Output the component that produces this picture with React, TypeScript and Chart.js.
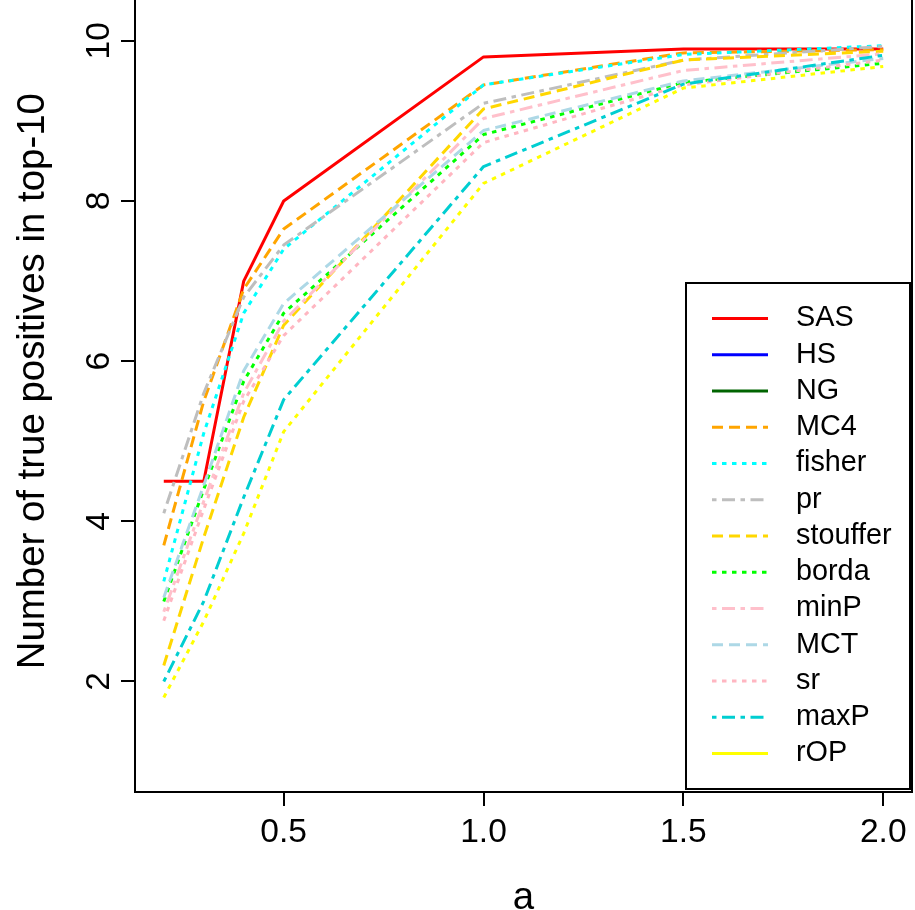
import React, { useEffect, useRef } from "react";
import { Chart, registerables } from "chart.js";
Chart.register(...registerables);

// ---- data ----
const aValues = [0.2, 0.3, 0.4, 0.5, 1.0, 1.5, 2.0];
const xTickValues = [0.5, 1.0, 1.5, 2.0];
const yTickValues = [2, 4, 6, 8, 10];
const seriesNames = ["SAS", "HS", "NG", "MC4", "fisher", "pr", "stouffer", "borda", "minP", "MCT", "sr", "maxP", "rOP"];

const SAS = [4.5, 4.5, 7.0, 8.0, 9.8, 9.9, 9.9];
const HS: number[] = [];
const NG: number[] = [];
const MC4 = [3.7, 5.5, 6.9, 7.65, 9.45, 9.85, 9.89];
const fisher = [3.25, 5.1, 6.6, 7.4, 9.45, 9.83, 9.94];
const pr = [4.1, 5.6, 6.8, 7.45, 9.22, 9.76, 9.93];
const stouffer = [2.2, 3.8, 5.3, 6.45, 9.15, 9.76, 9.87];
const borda = [3.0, 4.4, 5.75, 6.6, 8.83, 9.48, 9.72];
const minP = [2.87, 4.25, 5.6, 6.5, 9.03, 9.63, 9.84];
const MCT = [3.05, 4.45, 5.88, 6.72, 8.88, 9.5, 9.78];
const sr = [2.76, 4.15, 5.5, 6.32, 8.73, 9.45, 9.76];
const maxP = [2.0, 3.0, 4.3, 5.52, 8.43, 9.46, 9.82];
const rOP = [1.8, 2.75, 3.85, 5.12, 8.22, 9.41, 9.68];

const seriesValues = [SAS, HS, NG, MC4, fisher, pr, stouffer, borda, minP, MCT, sr, maxP, rOP];

// ---- styles ----
const colors = ["#FF0000", "#0000FF", "#006400", "#FFA500", "#00FFFF", "#BEBEBE", "#FFD700", "#00FF00", "#FFC0CB", "#ADD8E6", "#FFB6C1", "#00CED1", "#FFFF00"];
const DASH: Record<string, number[]> = {
  solid: [],
  dashed: [11, 6],
  dotted: [4.5, 5.5],
  dotdash: [4.5, 5.5, 13, 5.5],
};
const plotLty = ["solid", "solid", "solid", "dashed", "dotted", "dotdash", "dashed", "dotted", "dotdash", "dashed", "dotted", "dotdash", "dotted"];
const legendLty = ["solid", "solid", "solid", "dashed", "dotted", "dotdash", "dashed", "dotted", "dotdash", "dashed", "dotted", "dotdash", "solid"];

const FONT = "'Liberation Sans', Arial, Helvetica, sans-serif";
const CANVAS_OFFSET = 40; // plot region top lies above the visible page

const rPlotPlugin = {
  id: "rplot",
  afterDraw(chart: any) {
    const { ctx, chartArea: ca } = chart;
    ctx.save();
    // plot box
    ctx.strokeStyle = "#000";
    ctx.lineWidth = 2;
    ctx.setLineDash([]);
    ctx.strokeRect(ca.left, ca.top, ca.right - ca.left, ca.bottom - ca.top);

    // y tick labels (rotated, R style)
    const ys = chart.scales.y;
    ctx.fillStyle = "#000";
    ctx.font = `33.6px ${FONT}`;
    ctx.textAlign = "center";
    ctx.textBaseline = "middle";
    ys.ticks.forEach((t: any) => {
      const py = ys.getPixelForValue(t.value);
      ctx.save();
      ctx.translate(ca.left - 35, py);
      ctx.rotate(-Math.PI / 2);
      ctx.fillText(String(t.value), 0, 0);
      ctx.restore();
    });

    // legend box
    const bRight = ca.right - 2;
    const bBottom = ca.bottom - 3;
    const bW = 224;
    const bH = 506;
    const bLeft = bRight - bW;
    const bTop = bBottom - bH;
    ctx.fillStyle = "#fff";
    ctx.fillRect(bLeft, bTop, bW, bH);
    ctx.strokeStyle = "#000";
    ctx.lineWidth = 2;
    ctx.strokeRect(bLeft, bTop, bW, bH);
    ctx.font = `28.8px ${FONT}`;
    ctx.textAlign = "left";
    ctx.textBaseline = "middle";
    seriesNames.forEach((name, i) => {
      const yy = bTop + 35.5 + i * 36.25;
      ctx.strokeStyle = colors[i];
      ctx.lineWidth = 3;
      ctx.setLineDash(DASH[legendLty[i]]);
      ctx.beginPath();
      ctx.moveTo(bLeft + 26, yy);
      ctx.lineTo(bLeft + 82, yy);
      ctx.stroke();
      ctx.setLineDash([]);
      ctx.fillStyle = "#000";
      ctx.fillText(name, bLeft + 110, yy);
    });
    ctx.restore();
  },
};

export default function App() {
  const canvasRef = useRef<HTMLCanvasElement | null>(null);

  useEffect(() => {
    if (!canvasRef.current) return;
    Chart.defaults.font.family = FONT;
    const n = seriesNames.length;
    const datasets = seriesNames.map((name, i) => ({
      label: name,
      data: seriesValues[i].map((v, j) => ({ x: aValues[j], y: v })),
      borderColor: colors[i],
      backgroundColor: colors[i],
      borderWidth: 3,
      borderDash: DASH[plotLty[i]],
      borderCapStyle: "butt" as const,
      borderJoinStyle: "round" as const,
      pointRadius: 0,
      tension: 0,
      fill: false,
      order: n - i,
    }));

    const chart = new Chart(canvasRef.current, {
      type: "line",
      data: { datasets },
      options: {
        animation: false,
        responsive: false,
        devicePixelRatio: 1,
        layout: { padding: { top: 10.4, right: 3, left: 0, bottom: 0 } },
        plugins: {
          legend: { display: false },
          tooltip: { enabled: false },
        },
        scales: {
          x: {
            type: "linear",
            min: 0.128,
            max: 2.072,
            afterBuildTicks: (s: any) => {
              s.ticks = xTickValues.map((v) => ({ value: v }));
            },
            afterFit: (s: any) => {
              s.height = 118;
              s.paddingLeft = 0;
              s.paddingRight = 0;
            },
            grid: { drawOnChartArea: false, drawTicks: true, tickLength: 14, color: "#000", lineWidth: 2 },
            border: { display: false },
            ticks: {
              color: "#000",
              font: { size: 33.6 },
              padding: 7,
              maxRotation: 0,
              autoSkip: false,
              callback: (v: any) => Number(v).toFixed(1),
            },
            title: {
              display: true,
              text: "a",
              color: "#000",
              font: { size: 38.4, lineHeight: 0.6 },
              padding: { top: 0, bottom: 0.5 },
            },
          },
          y: {
            type: "linear",
            min: 0.62,
            max: 10.88,
            afterBuildTicks: (s: any) => {
              s.ticks = yTickValues.map((v) => ({ value: v }));
            },
            afterFit: (s: any) => {
              s.width = 135;
              s.paddingTop = 0;
              s.paddingBottom = 0;
            },
            grid: { drawOnChartArea: false, drawTicks: true, tickLength: 14, color: "#000", lineWidth: 2 },
            border: { display: false },
            ticks: { display: false },
            title: {
              display: true,
              text: "Number of true positives in top-10",
              color: "#000",
              font: { size: 38.4 },
              padding: { top: 10, bottom: 0 },
            },
          },
        },
      },
      plugins: [rPlotPlugin],
    });
    return () => chart.destroy();
  }, []);

  return (
    <div style={{ position: "fixed", left: 0, top: -CANVAS_OFFSET, width: 915, height: 910 + CANVAS_OFFSET, background: "#fff" }}>
      <canvas ref={canvasRef} width={915} height={910 + CANVAS_OFFSET} style={{ display: "block" }} />
    </div>
  );
}
